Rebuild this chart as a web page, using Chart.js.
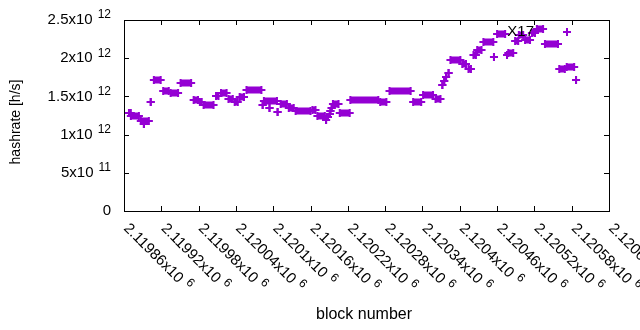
<!DOCTYPE html>
<html>
<head>
<meta charset="utf-8">
<script src="https://cdn.jsdelivr.net/npm/chart.js@4.4.0/dist/chart.umd.min.js"></script>
<style>
html, body { margin: 0; padding: 0; background: #fff; }
</style>
</head>
<body>
<canvas id="chart" width="640" height="330"></canvas>
<script>
// hashrate estimate per block range (runs of equal value, single points have start == end)
const runStart = [2119868, 2119871, 2119887, 2119892, 2119903, 2119908, 2119923, 2119935, 2119951, 2119972,
  2119982, 2119988, 2120008, 2120016, 2120028, 2120038, 2120046, 2120057, 2120083, 2120085,
  2120094, 2120107, 2120112, 2120125, 2120136, 2120163, 2120171, 2120185, 2120188, 2120191,
  2120192, 2120194, 2120196, 2120207, 2120224, 2120272, 2120287, 2120325, 2120341, 2120361,
  2120372, 2120375, 2120378, 2120382, 2120385, 2120404, 2120414, 2120422, 2120428, 2120438,
  2120455, 2120460, 2120476, 2120478, 2120489, 2120495, 2120505, 2120516, 2120524, 2120537,
  2120560, 2120572, 2120587];
const runEnd = [2119871, 2119884, 2119900, 2119892, 2119903, 2119919, 2119932, 2119947, 2119968, 2119979,
  2119985, 2120004, 2120012, 2120025, 2120035, 2120043, 2120053, 2120081, 2120083, 2120106,
  2120094, 2120107, 2120122, 2120133, 2120160, 2120168, 2120183, 2120185, 2120188, 2120191,
  2120192, 2120194, 2120205, 2120223, 2120269, 2120282, 2120321, 2120338, 2120357, 2120369,
  2120372, 2120375, 2120378, 2120382, 2120401, 2120410, 2120418, 2120426, 2120435, 2120454,
  2120455, 2120473, 2120476, 2120486, 2120494, 2120502, 2120513, 2120521, 2120534, 2120558,
  2120569, 2120584, 2120587];
const runRate = [1.283e12, 1.243e12, 1.178e12, 1.139e12, 1.427e12, 1.715e12, 1.571e12, 1.545e12, 1.675e12, 1.453e12,
  1.427e12, 1.387e12, 1.505e12, 1.545e12, 1.466e12, 1.427e12, 1.492e12, 1.584e12, 1.387e12, 1.440e12,
  1.348e12, 1.296e12, 1.401e12, 1.348e12, 1.309e12, 1.322e12, 1.243e12, 1.191e12, 1.230e12, 1.270e12,
  1.309e12, 1.348e12, 1.401e12, 1.283e12, 1.453e12, 1.427e12, 1.571e12, 1.427e12, 1.518e12, 1.466e12,
  1.649e12, 1.702e12, 1.754e12, 1.806e12, 1.976e12, 1.924e12, 1.859e12, 2.042e12, 2.107e12, 2.212e12,
  2.016e12, 2.317e12, 2.042e12, 2.068e12, 2.225e12, 2.304e12, 2.238e12, 2.330e12, 2.382e12, 2.186e12,
  1.859e12, 1.885e12, 1.715e12];

const seriesName = 'X17';

const xTicks = [2119860, 2119920, 2119980, 2120040, 2120100, 2120160, 2120220,
  2120280, 2120340, 2120400, 2120460, 2120520, 2120580, 2120640];
const xTickText = ['2.11986', '2.11992', '2.11998', '2.12004', '2.1201', '2.12016', '2.12022',
  '2.12028', '2.12034', '2.1204', '2.12046', '2.12052', '2.12058', '2.12064'];
const xTickExp = '6';

const yTicks = [0, 5e11, 1e12, 1.5e12, 2e12, 2.5e12];
const yTickText = ['0', '5x10', '1x10', '1.5x10', '2x10', '2.5x10'];
const yTickExp = ['', '11', '12', '12', '12', '12'];

const purple = '#9400d3';
const mainFont = '15px "Liberation Sans", Arial, sans-serif';
const supFont = '12px "Liberation Sans", Arial, sans-serif';

const points = [];
runStart.forEach((s, i) => {
  points.push({x: s, y: runRate[i]});
  points.push({x: runEnd[i], y: runRate[i]});
  points.push({x: runEnd[i], y: null});
});

const gnuplotLook = {
  id: 'gnuplotLook',
  beforeDatasetsDraw(chart) {
    const {ctx, chartArea: a, scales: {x, y}} = chart;
    ctx.save();
    ctx.strokeStyle = '#000';
    ctx.lineWidth = 1;
    ctx.strokeRect(a.left + 0.5, a.top + 0.5, a.right - a.left, a.bottom - a.top);
    ctx.beginPath();
    xTicks.forEach(v => {
      const px = Math.round(x.getPixelForValue(v)) + 0.5;
      ctx.moveTo(px, a.bottom); ctx.lineTo(px, a.bottom - 5);
      ctx.moveTo(px, a.top); ctx.lineTo(px, a.top + 5);
    });
    yTicks.forEach(v => {
      const py = Math.round(y.getPixelForValue(v)) + 0.5;
      ctx.moveTo(a.left, py); ctx.lineTo(a.left + 5, py);
      ctx.moveTo(a.right, py); ctx.lineTo(a.right - 5, py);
    });
    ctx.stroke();
    ctx.restore();
  },
  afterDraw(chart) {
    const {ctx, chartArea: a, scales: {x, y}} = chart;
    ctx.save();
    ctx.fillStyle = '#000';

    // y tick labels
    ctx.textBaseline = 'middle';
    yTicks.forEach((v, i) => {
      const py = y.getPixelForValue(v);
      const right = 111;
      if (!yTickExp[i]) {
        ctx.font = mainFont;
        ctx.textAlign = 'right';
        ctx.fillText(yTickText[i], right, py);
        return;
      }
      ctx.font = supFont;
      const sw = ctx.measureText(yTickExp[i]).width;
      ctx.textAlign = 'left';
      ctx.fillText(yTickExp[i], right - sw, py - 5);
      ctx.font = mainFont;
      ctx.textAlign = 'right';
      ctx.fillText(yTickText[i], right - sw - 5, py);
    });

    // x tick labels, rotated
    xTicks.forEach((v, i) => {
      const px = x.getPixelForValue(v);
      ctx.save();
      ctx.translate(px + 2, a.bottom + 15);
      ctx.rotate(Math.PI / 4);
      ctx.textAlign = 'left';
      ctx.textBaseline = 'middle';
      ctx.font = mainFont;
      const txt = xTickText[i] + 'x10';
      ctx.fillText(txt, 0, 0);
      const w = ctx.measureText(txt).width;
      ctx.font = supFont;
      ctx.fillText(xTickExp, w + 5, -5);
      ctx.restore();
    });

    // axis titles
    ctx.font = '16px "Liberation Sans", Arial, sans-serif';
    ctx.textAlign = 'center';
    ctx.fillText('block number', 364, 315);
    ctx.save();
    ctx.translate(16, 122);
    ctx.rotate(-Math.PI / 2);
    ctx.font = '14px "Liberation Sans", Arial, sans-serif';
    ctx.fillText('hashrate [h/s]', 0, 0);
    ctx.restore();

    // key
    ctx.font = mainFont;
    ctx.textAlign = 'right';
    ctx.fillText(seriesName, 534, 32);
    ctx.strokeStyle = purple;
    ctx.lineWidth = 2;
    ctx.beginPath();
    ctx.moveTo(563, 32); ctx.lineTo(571, 32);
    ctx.moveTo(567, 28); ctx.lineTo(567, 36);
    ctx.stroke();
    ctx.restore();
  }
};

new Chart(document.getElementById('chart'), {
  type: 'line',
  data: {
    datasets: [{
      label: seriesName,
      data: points,
      borderColor: purple,
      backgroundColor: purple,
      borderWidth: 7,
      borderCapStyle: 'butt',
      spanGaps: false,
      fill: false,
      tension: 0,
      pointStyle: 'cross',
      pointRadius: 4,
      pointBorderWidth: 2,
      pointBorderColor: purple,
      pointHoverRadius: 4
    }]
  },
  options: {
    responsive: false,
    animation: false,
    layout: {padding: {left: 124, top: 20, right: 31, bottom: 119}},
    plugins: {legend: {display: false}, tooltip: {enabled: false}},
    scales: {
      x: {type: 'linear', min: 2119860, max: 2120640, display: false},
      y: {min: 0, max: 2.5e12, display: false}
    }
  },
  plugins: [gnuplotLook]
});
</script>
</body>
</html>
